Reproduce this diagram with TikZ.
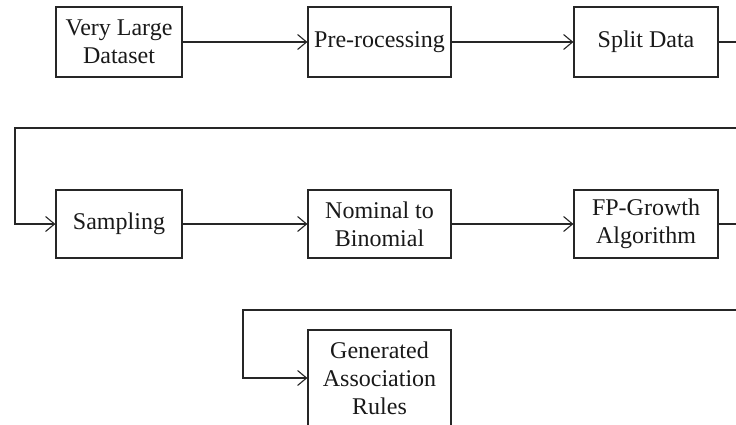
\documentclass[tikz,border=0pt]{standalone}
\usepackage{fontspec}
\setmainfont{Liberation Serif}
\usetikzlibrary{arrows.meta}
\begin{document}
\begin{tikzpicture}[x=1pt,y=-1pt,
  box/.style={draw=black!85, line width=1.2pt, inner sep=0pt, align=center,
    font=\fontsize{24}{28}\selectfont, text=black!90},
  conn/.style={draw=black!85, line width=1.2pt, -{Straight Barb[length=9pt,width=15pt,line width=1.1pt]}}]
\useasboundingbox (0,0) rectangle (736,425);
\clip (0,0) rectangle (736,425);
\node[box, minimum width=126pt, minimum height=70pt] (vld) at (119,42) {Very Large\\Dataset};
\node[box, minimum width=143pt, minimum height=70pt] (pre) at (379.5,42) {Pre-rocessing};
\node[box, minimum width=144pt, minimum height=70pt] (split) at (646,42) {Split Data};
\node[box, minimum width=126pt, minimum height=68pt] (samp) at (119,224) {Sampling};
\node[box, minimum width=143pt, minimum height=68pt] (nom) at (379.5,224) {Nominal to\\Binomial};
\node[box, minimum width=144pt, minimum height=68pt] (fp) at (646,224) {FP-Growth\\Algorithm};
\node[box, minimum width=143pt, minimum height=96pt] (gen) at (379.5,378) {Generated\\Association\\Rules};
\draw[conn] (vld) -- (pre);
\draw[conn] (pre) -- (split);
\draw[conn] (split.east) -- (760,42) -- (760,128) -- (15,128) |- (samp.west);
\draw[conn] (samp) -- (nom);
\draw[conn] (nom) -- (fp);
\draw[conn] (fp.east) -- (760,224) -- (760,310) -- (243,310) |- (gen.west);
\end{tikzpicture}
\end{document}
